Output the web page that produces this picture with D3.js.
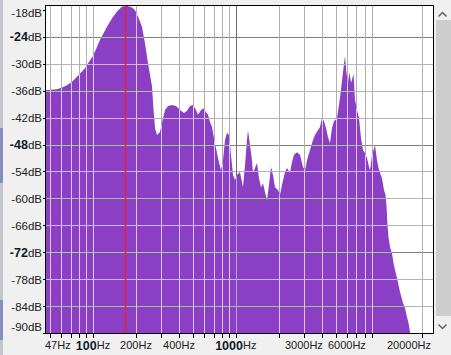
<!DOCTYPE html>
<html>
<head>
<meta charset="utf-8">
<script src="https://cdn.jsdelivr.net/npm/d3@7"></script>
<style>
    body { margin: 0; background: #f0f0f0; }
    svg { display: block; font-family: "Liberation Sans", Arial, sans-serif; }
    line { shape-rendering: crispEdges; }
</style>
</head>
<body>
<div id="graph"></div>
<script>
// Spectrum: frequency (Hz) and level (dB)
let specHz = [46.1, 56, 60.6, 65.7, 71.3, 78.5, 87.9, 92.3, 100, 112, 125.3, 135.9, 147.3, 159.6, 173, 187.6,
    196.8, 206.6, 220.3, 231.3, 242.8, 259, 265.3, 271.8, 280.7, 294.5, 309.2, 319.3, 335.1, 357.5, 381.3, 406.7,
    433.8, 455.3, 477.9, 501.6, 526.5, 543.7, 570.6, 598.9, 618.5, 638.8, 659.7, 681.3, 715.1, 750.6, 787.7, 813.5,
    840.2, 867.7, 896.1, 925.4, 955.8, 987.2, 1019.5, 1070, 1123, 1160, 1198, 1217, 1257, 1298, 1319, 1363, 1408,
    1454, 1502, 1551, 1602, 1654, 1708, 1764, 1822, 1882, 1975, 2040, 2106, 2211, 2284, 2396, 2475, 2556, 2683,
    2816, 2955, 3052, 3152, 3308, 3472, 3586, 3763, 3887, 4014, 4146, 4282, 4422, 4567, 4717, 4872, 5112, 5280,
    5453, 5632, 5817, 5959, 6105, 6254, 6407, 6674, 6837, 7061, 7293, 7533, 7780, 8035, 8299, 8571, 8711, 8996,
    9216, 9436, 9745, 9984, 10226, 10563, 10909, 11176, 11358, 11543, 11731, 12018, 12412, 12716, 13027, 13455,
    14120, 14820, 15307, 15808, 16195, 16590, 16860];
let specDb = [-35.9, -35.7, -35.3, -34.8, -34.0, -32.7, -31.0, -29.9, -28.3, -24.7, -21.8, -19.9, -18.4, -17.3,
    -17.1, -17.5, -18.1, -19.5, -21.8, -25.5, -29.9, -35.1, -40.3, -44.3, -45.9, -45.2, -42.1, -40.3, -39.4, -39.2,
    -39.4, -40.3, -41.0, -40.5, -39.4, -39.2, -40.3, -41.4, -40.3, -39.9, -40.8, -41.4, -43.0, -44.1, -47.7, -51.0,
    -53.7, -51.5, -47.0, -45.4, -45.9, -50.3, -54.8, -55.9, -54.8, -54.1, -57.5, -52.6, -47.0, -44.8, -48.1, -51.5,
    -54.3, -53.2, -52.1, -55.5, -57.5, -56.6, -58.6, -60.4, -57.0, -53.0, -54.8, -57.5, -58.1, -59.2, -57.0, -54.1,
    -53.2, -54.3, -51.9, -50.3, -49.7, -50.3, -53.0, -53.7, -51.5, -49.2, -47.0, -45.9, -44.8, -44.1, -42.1, -42.8,
    -44.3, -46.3, -47.7, -44.3, -42.8, -42.1, -39.2, -35.9, -31.9, -28.3, -32.1, -34.1, -31.9, -34.3, -32.3, -38.1,
    -40.3, -42.1, -46.6, -49.2, -49.9, -51.0, -53.0, -53.7, -50.3, -49.2, -48.1, -51.5, -53.2, -54.3, -55.5, -58.1,
    -59.2, -61.5, -65.9, -68.6, -70.8, -72.2, -74.4, -75.9, -77.7, -80.8, -83.3, -84.4, -86.4, -87.7, -89.7, -90.6];

let dbTicks = [-18, -24, -30, -36, -42, -48, -54, -60, -66, -72, -78, -84, -90];
let dbGrid = [-24, -30, -36, -42, -48, -54, -60, -66, -72, -78, -84];
let hzGrid = [50, 60, 70, 80, 90, 100, 200, 300, 400, 500, 600, 700, 800, 900, 1000,
    2000, 3000, 4000, 5000, 6000, 7000, 8000, 9000, 20000];
let hzLabels = [47, 100, 200, 400, 1000, 3000, 6000, 20000];
let boldLabels = [100, 1000, -24, -48, -72];
let cursorHz = 168;

let width = 451, height = 355;
let plot = {left: 45, right: 433, top: 5, bottom: 333};

let svg = d3.select("#graph")
    .append("svg")
    .attr("width", width)
    .attr("height", height);

svg.append("rect").attr("width", width).attr("height", height).attr("fill", "#f0f0f0");

// little bit of the window behind, on the left edge
svg.append("rect").attr("x", 0).attr("y", 0).attr("width", 3).attr("height", height).attr("fill", "#c4c6cc");
svg.append("rect").attr("x", 0).attr("y", 128).attr("width", 3).attr("height", 55).attr("fill", "#5a6ab0").attr("opacity", 0.6);
svg.append("rect").attr("x", 0).attr("y", 300).attr("width", 3).attr("height", 40).attr("fill", "#5a6ab0").attr("opacity", 0.6);

let x = d3.scaleLog().domain([46.1, 24050]).range([plot.left, plot.right]);
let y = d3.scaleLinear().domain([-90, -18]).range([333.2, 9.75]);

let defs = svg.append("defs");
defs.append("clipPath").attr("id", "plotClip")
    .append("rect")
    .attr("x", plot.left).attr("y", plot.top)
    .attr("width", plot.right - plot.left).attr("height", plot.bottom - plot.top);

let data = specHz.map(function (f, i) {
    return {hz: f, db: specDb[i]};
});

let area = d3.area()
    .x(function (d) { return x(d.hz); })
    .y0(plot.bottom)
    .y1(function (d) { return y(d.db); });

defs.append("clipPath").attr("id", "specClip")
    .append("path")
    .attr("d", area(data));

let g = svg.append("g").attr("clip-path", "url(#plotClip)");

g.append("rect")
    .attr("x", plot.left).attr("y", plot.top)
    .attr("width", plot.right - plot.left).attr("height", plot.bottom - plot.top)
    .attr("fill", "#ffffff");

// grid on the white part
function drawGrid(sel, hColor, vColor) {
    sel.selectAll(".hgrid")
        .data(dbGrid)
        .enter()
        .append("line")
        .attr("x1", plot.left).attr("x2", plot.right)
        .attr("y1", function (d) { return Math.round(y(d)) + 0.5; })
        .attr("y2", function (d) { return Math.round(y(d)) + 0.5; })
        .attr("stroke", hColor);
    sel.selectAll(".vgrid")
        .data(hzGrid)
        .enter()
        .append("line")
        .attr("y1", plot.top).attr("y2", plot.bottom)
        .attr("x1", function (d) { return Math.round(x(d)) + 0.5; })
        .attr("x2", function (d) { return Math.round(x(d)) + 0.5; })
        .attr("stroke", vColor);
}

drawGrid(g.append("g"),
    function (d) { return d % 24 === 0 ? "#808080" : "#b4b4b4"; },
    function (d) { return d === 1000 ? "#707070" : "#b0b0b0"; });

g.append("path")
    .attr("d", area(data))
    .attr("fill", "#8b3fc4");

// grid drawn again over the spectrum, in lighter colours
drawGrid(g.append("g").attr("clip-path", "url(#specClip)"),
    function (d) { return d % 12 === 0 ? "#98c890" : "#cfb2ec"; },
    function (d) { return d === 1000 ? "#b9a6cf" : "#dac6f0"; });

// cursor
let cx0 = x(cursorHz);
svg.append("rect")
    .attr("x", Math.round(cx0) - 0.25).attr("width", 1.5)
    .attr("y", plot.top + 1).attr("height", plot.bottom - plot.top - 1)
    .attr("fill", "#e8203c");

// frame
svg.append("line").attr("x1", plot.left).attr("x2", plot.right + 1)
    .attr("y1", plot.top + 0.5).attr("y2", plot.top + 0.5).attr("stroke", "#000");
svg.append("line").attr("x1", plot.right + 0.5).attr("x2", plot.right + 0.5)
    .attr("y1", plot.top).attr("y2", plot.bottom).attr("stroke", "#000");

// y axis
let yAxis = svg.append("g")
    .attr("transform", "translate(" + (plot.left + 0.5) + ",0)")
    .call(d3.axisLeft(y).tickValues(dbTicks).tickSize(3).tickSizeOuter(0)
        .tickFormat(function (d) { return d + "dB"; }));
yAxis.select(".domain").attr("d", "M0," + plot.top + "V" + plot.bottom).attr("stroke", "#000");
yAxis.selectAll(".tick line").attr("stroke", "#000");
yAxis.selectAll(".tick text")
    .attr("x", -3.5)
    .attr("fill", "#202020")
    .style("font-size", "11.5px")
    .attr("dy", function (d) {
        let yy = Math.max(12, Math.min(326, y(d)));
        return (yy - y(d) + 4) + "px";
    })
    .each(function (d) {
        if (boldLabels.indexOf(d) >= 0) {
            let t = d3.select(this).text("");
            t.append("tspan").attr("font-weight", "bold").style("font-size", "12.5px").attr("fill", "#101828").text(d);
            t.append("tspan").text("dB");
        }
    });

// x axis
let xAxis = svg.append("g")
    .attr("transform", "translate(0," + (plot.bottom + 0.5) + ")")
    .call(d3.axisBottom(x).tickValues(hzGrid).tickSize(4).tickSizeOuter(0).tickFormat(""));
xAxis.select(".domain").attr("d", "M" + plot.left + ",0H" + (plot.right + 1)).attr("stroke", "#000");
xAxis.selectAll(".tick line").attr("stroke", "#000");

let xl = svg.append("g");
hzLabels.forEach(function (f) {
    let t = xl.append("text")
        .attr("y", 349)
        .attr("text-anchor", "middle")
        .attr("fill", "#202020")
        .style("font-size", "11px");
    if (boldLabels.indexOf(f) >= 0) {
        t.append("tspan").attr("font-weight", "bold").style("font-size", "12.5px").attr("fill", "#101828").attr("dy", 1).text(f);
        t.append("tspan").attr("dy", -1).text("Hz");
    } else {
        t.text(f + "Hz");
    }
    let w = t.node().getComputedTextLength();
    let lx = Math.max(plot.left + w / 2, Math.min(plot.right - w / 2 - 2, x(f)));
    t.attr("x", lx);
});

// scroll bar on the right
svg.append("rect").attr("x", 436).attr("y", 20).attr("width", 15).attr("height", 296).attr("fill", "#cdcdcd");
svg.append("path").attr("d", "M438.5,16.5L442.5,12.5L446.5,16.5")
    .attr("fill", "none").attr("stroke", "#606060").attr("stroke-width", 1.5);
svg.append("path").attr("d", "M438.5,324.5L442.5,328.5L446.5,324.5")
    .attr("fill", "none").attr("stroke", "#606060").attr("stroke-width", 1.5);
</script>
</body>
</html>
